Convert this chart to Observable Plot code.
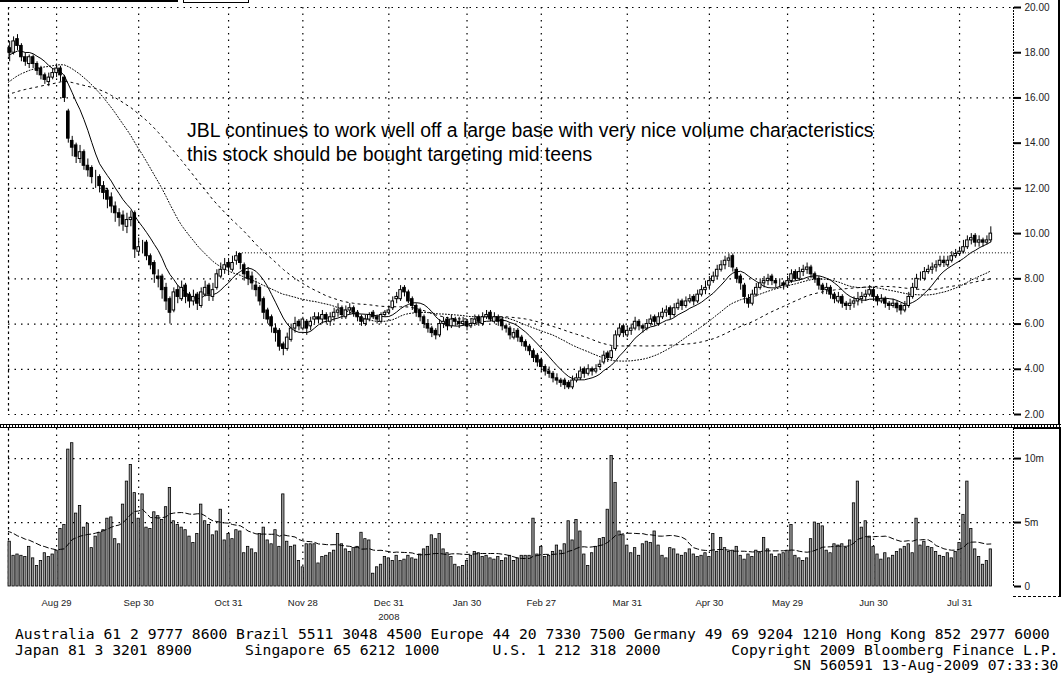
<!DOCTYPE html>
<html><head><meta charset="utf-8">
<script src="https://cdn.jsdelivr.net/npm/d3@7"></script>
<script src="https://cdn.jsdelivr.net/npm/@observablehq/plot@0.6"></script>
<style>
html,body{margin:0;padding:0;background:#fff;}
#wrap{position:relative;width:1061px;height:673px;overflow:hidden;background:#fff;}
#price{position:absolute;left:0;top:0;}
#vol{position:absolute;left:0;top:424px;}
.note{position:absolute;left:187px;font-family:"Liberation Sans",Arial,sans-serif;font-size:19.4px;color:#000;white-space:nowrap;line-height:1;}
#footer{position:absolute;left:15px;top:626px;font-family:"DejaVu Sans Mono",monospace;font-size:14.7px;line-height:15.5px;white-space:pre;color:#000;}
#sep{position:absolute;left:0;top:424px;width:1061px;height:2px;border-top:1px solid #000;border-bottom:1px solid #000;background:repeating-linear-gradient(90deg,#000 0 1px,#fff 1px 3px);}
.blk{position:absolute;background:#000;}
</style></head><body>
<div id="wrap">
  <div class="blk" style="left:0;top:0;width:178px;height:2px"></div>
  <div style="position:absolute;left:183px;top:-10px;width:64px;height:11px;border:1px solid #000"></div>
  <div id="price"></div>
  <div id="vol"></div>
  <div id="sep"></div>
  <div class="blk" style="left:1058px;top:0;width:2px;height:425px"></div>
  <div class="blk" style="left:1013px;top:427px;width:48px;height:2px"></div>
  <div class="blk" style="left:1059px;top:427px;width:2px;height:170px"></div>
  <div style="position:absolute;left:1013px;top:596px;width:48px;border-top:1px dashed #000"></div>
  <div class="note" style="top:121px">JBL continues to work well off a large base with very nice volume characteristics</div>
  <div class="note" style="top:145px">this stock should be bought targeting mid teens</div>
  <div id="footer"></div>
</div>
<script>
// ---- data (daily, trading-day index 0 = 13-Aug-2008 ... 251 = 12-Aug-2009) ----
const opens = [
18.2,18.0,18.6,18.3,17.8,17.5,17.8,17.5,17.3,17.0,
16.7,16.9,17.1,17.3,16.9,15.4,14.1,13.9,13.3,13.6,
13.0,12.9,12.4,12.5,12.1,11.9,11.6,11.2,10.9,10.8,
10.3,10.6,10.9,9.2,9.5,9.6,9.0,8.7,8.1,8.1,
7.6,7.1,6.6,7.5,7.1,7.7,7.3,7.0,7.3,6.8,
7.3,7.7,7.2,7.6,8.1,8.4,8.7,8.4,8.8,9.1,
8.6,8.3,8.1,7.7,7.6,7.1,6.6,6.3,5.8,5.7,
5.1,4.9,5.3,5.8,6.1,5.8,6.1,5.9,6.2,6.3,
6.2,6.4,6.1,6.3,6.5,6.7,6.3,6.6,6.7,6.5,
6.3,6.0,6.2,6.5,6.3,6.1,6.4,6.5,6.7,7.1,
7.1,7.6,7.4,7.1,6.8,6.6,6.3,6.0,5.8,5.7,
5.5,6.0,6.2,5.9,6.2,6.1,6.0,6.1,5.9,6.0,
6.3,6.0,6.3,6.5,6.1,6.3,6.2,5.9,5.8,5.4,
5.7,5.4,5.2,5.0,4.8,4.6,4.4,4.1,3.9,3.8,
3.6,3.5,3.5,3.4,3.2,3.5,3.6,4.0,3.8,4.0,
3.9,4.1,4.3,4.7,4.5,4.9,5.5,5.9,5.5,5.7,
5.8,6.1,5.9,5.8,6.0,6.3,6.0,6.3,6.5,6.7,
6.4,6.7,7.0,6.8,7.0,7.2,7.0,7.3,7.5,7.7,
7.9,8.1,8.4,8.6,8.8,9.0,8.4,8.1,7.7,7.1,
6.9,7.3,7.6,7.8,7.9,8.1,7.9,7.8,7.8,7.7,
7.9,8.3,8.0,8.3,8.4,8.5,8.2,8.0,7.7,7.5,
7.6,7.3,7.0,7.2,6.9,6.8,6.9,7.0,7.1,7.2,
7.3,7.5,7.2,7.0,7.1,6.9,6.8,6.9,6.8,6.6,
6.8,7.2,7.6,8.1,8.0,8.3,8.4,8.5,8.6,8.8,
8.6,8.8,9.0,9.1,9.2,9.4,9.7,9.9,9.6,9.7,
9.6,9.7];
const highs = [
18.5,18.7,18.8,18.4,18.0,17.9,17.9,17.6,17.4,17.1,
17.1,17.3,17.5,17.4,17.0,15.5,14.3,14.0,13.9,13.7,
13.3,13.0,12.8,12.6,12.3,12.0,11.8,11.4,11.1,11.0,
10.9,11.0,11.0,9.8,9.7,9.7,9.1,8.8,8.4,8.2,
7.8,7.2,7.6,7.7,7.9,7.8,7.4,7.5,7.4,7.6,
7.9,7.8,7.8,8.4,8.7,8.9,8.9,9.0,9.2,9.1,
8.7,8.5,8.3,7.9,7.7,7.2,6.7,6.4,6.0,5.8,
5.2,5.6,6.0,6.3,6.2,6.3,6.2,6.3,6.5,6.5,
6.6,6.5,6.5,6.7,6.9,6.8,6.8,6.9,6.8,6.6,
6.4,6.4,6.5,6.6,6.4,6.5,6.6,6.8,7.2,7.4,
7.7,7.7,7.5,7.2,6.9,6.7,6.4,6.2,5.9,5.8,
6.2,6.3,6.3,6.4,6.3,6.3,6.3,6.2,6.2,6.4,
6.4,6.5,6.6,6.6,6.5,6.4,6.3,6.0,5.9,5.8,
5.8,5.5,5.3,5.1,4.9,4.7,4.5,4.2,4.1,3.9,
3.8,3.6,3.6,3.5,3.7,3.8,4.1,4.1,4.2,4.1,
4.2,4.4,4.8,4.8,5.0,5.7,6.0,6.0,5.9,6.0,
6.3,6.2,6.0,6.2,6.4,6.4,6.5,6.7,6.8,6.8,
6.9,7.1,7.1,7.2,7.3,7.3,7.5,7.7,7.9,8.1,
8.3,8.6,8.8,9.0,9.1,9.1,8.5,8.2,7.8,7.3,
7.5,7.8,8.0,8.1,8.2,8.2,8.0,8.0,7.9,8.1,
8.4,8.4,8.5,8.6,8.7,8.6,8.3,8.1,7.8,7.8,
7.7,7.4,7.4,7.3,7.0,7.1,7.2,7.4,7.4,7.5,
7.7,7.6,7.3,7.3,7.2,7.0,7.1,7.0,6.9,7.0,
7.4,7.8,8.2,8.3,8.5,8.6,8.7,8.8,9.0,9.0,
9.0,9.2,9.3,9.4,9.7,9.9,10.0,10.0,9.9,9.8,
9.9,10.3];
const lows = [
17.6,17.9,18.1,17.6,17.4,17.3,17.3,17.0,16.8,16.6,
16.5,16.8,16.9,16.7,15.8,14.0,13.4,13.1,13.1,12.8,
12.5,12.2,12.0,11.8,11.5,11.1,10.9,10.5,10.3,10.1,
10.0,10.3,8.9,9.0,9.1,8.8,8.4,7.8,7.6,7.1,
6.6,6.0,6.5,6.9,7.0,6.9,6.7,6.8,6.6,6.7,
7.2,7.0,7.0,7.5,8.0,8.2,8.2,8.3,8.6,8.4,
7.9,7.7,7.5,7.2,6.8,6.2,6.0,5.6,5.2,4.8,
4.6,4.8,5.2,5.6,5.7,5.7,5.5,5.7,6.0,6.0,
6.0,6.0,5.9,6.1,6.3,6.2,6.2,6.4,6.3,6.1,
5.9,5.9,6.1,6.2,6.0,6.0,6.3,6.4,6.6,6.9,
7.0,7.2,6.9,6.6,6.3,6.1,5.8,5.6,5.4,5.3,
5.4,5.8,5.7,5.8,5.9,5.8,5.9,5.7,5.8,5.9,
5.9,5.9,6.2,6.1,6.0,5.9,5.7,5.6,5.3,5.3,
5.2,5.0,4.8,4.6,4.3,4.1,3.9,3.7,3.6,3.4,
3.3,3.2,3.1,3.1,3.1,3.4,3.5,3.6,3.7,3.7,
3.8,4.0,4.2,4.3,4.4,4.8,5.4,5.4,5.4,5.5,
5.7,5.7,5.6,5.7,5.9,5.9,5.9,6.2,6.3,6.2,
6.3,6.6,6.6,6.7,6.9,6.8,6.9,7.2,7.3,7.5,
7.8,8.0,8.3,8.4,8.5,8.3,7.8,7.5,6.9,6.7,
6.8,7.2,7.5,7.6,7.7,7.7,7.6,7.6,7.5,7.6,
7.8,7.9,7.9,8.1,8.2,8.0,7.8,7.5,7.3,7.3,
7.1,6.9,6.9,6.7,6.6,6.6,6.7,6.8,6.9,7.0,
7.2,7.0,6.8,6.9,6.7,6.6,6.7,6.5,6.4,6.5,
6.7,7.1,7.5,7.9,7.9,8.2,8.2,8.3,8.5,8.5,
8.5,8.7,8.9,9.0,9.1,9.3,9.5,9.4,9.4,9.4,
9.5,9.6];
const closes = [
18.0,18.5,18.3,17.8,17.6,17.8,17.5,17.2,17.0,16.8,
16.9,17.1,17.3,17.0,16.0,14.2,13.8,13.4,13.6,13.0,
12.8,12.5,12.4,12.1,11.8,11.5,11.2,10.9,10.7,10.4,
10.6,10.7,9.3,9.4,9.5,9.0,8.6,8.2,8.0,7.5,
7.0,6.5,7.4,7.2,7.6,7.2,7.0,7.2,6.9,7.4,
7.6,7.3,7.5,8.2,8.4,8.6,8.5,8.7,9.0,8.7,
8.2,8.0,7.8,7.5,7.0,6.5,6.2,5.9,5.6,5.0,
4.9,5.4,5.8,6.0,5.9,6.2,5.8,6.1,6.3,6.2,
6.4,6.2,6.3,6.5,6.6,6.4,6.6,6.7,6.5,6.3,
6.1,6.2,6.4,6.3,6.2,6.4,6.5,6.6,7.0,7.2,
7.5,7.4,7.0,6.8,6.5,6.3,6.0,5.8,5.6,5.5,
6.0,6.1,5.9,6.2,6.1,6.0,6.1,5.9,6.0,6.2,
6.1,6.3,6.4,6.2,6.3,6.1,5.9,5.8,5.5,5.6,
5.4,5.2,5.0,4.8,4.5,4.3,4.1,3.9,3.8,3.6,
3.5,3.4,3.3,3.2,3.5,3.6,3.9,3.8,4.0,3.9,
4.0,4.2,4.6,4.5,4.8,5.5,5.8,5.6,5.7,5.8,
6.1,5.9,5.8,6.0,6.2,6.1,6.3,6.5,6.6,6.4,
6.7,6.9,6.8,7.0,7.1,7.0,7.3,7.5,7.6,7.9,
8.1,8.4,8.6,8.8,8.9,8.5,8.0,7.8,7.2,6.9,
7.3,7.6,7.8,7.9,8.0,7.9,7.8,7.8,7.7,7.9,
8.2,8.0,8.3,8.4,8.5,8.2,8.0,7.7,7.5,7.6,
7.3,7.1,7.2,6.9,6.8,6.9,7.0,7.1,7.2,7.3,
7.5,7.2,7.0,7.1,6.9,6.8,6.9,6.7,6.6,6.8,
7.2,7.6,8.0,8.1,8.3,8.4,8.5,8.6,8.8,8.7,
8.8,9.0,9.1,9.2,9.4,9.7,9.8,9.6,9.7,9.6,
9.7,10.0];
// closes of the 50 sessions before the window (feed the moving averages only)
const priorCloses = [
16.0,15.8,15.5,15.3,15.6,15.9,15.7,15.4,15.1,14.9,
15.2,15.5,15.3,15.0,14.8,15.1,15.4,15.7,15.5,15.2,
14.9,14.6,14.8,15.1,15.4,15.6,15.9,16.1,15.8,16.0,
16.3,16.1,16.4,16.6,16.3,16.5,16.7,17.0,17.3,17.5,
17.2,17.6,17.8,17.5,17.9,18.1,17.8,18.0,18.2,17.9];
// volume, millions of shares
const volumes = [
3.5,2.4,2.5,2.4,2.3,3.1,2.2,1.6,2.0,2.6,
2.3,2.5,2.8,4.5,4.8,10.7,11.2,5.7,6.3,4.6,
4.9,3.0,3.9,4.2,4.4,5.3,5.4,3.7,3.3,6.4,
8.2,9.5,7.3,5.3,7.2,4.6,4.5,5.8,5.5,5.2,
6.2,7.7,5.1,4.8,4.6,4.4,3.9,3.4,4.1,6.4,
5.1,4.8,4.0,4.3,6.0,3.6,4.1,3.7,4.4,4.3,
2.6,3.1,2.9,2.6,4.1,4.6,3.6,3.3,4.4,3.1,
7.2,3.5,3.1,3.2,2.0,1.5,3.3,3.3,3.3,1.8,
2.3,2.4,2.6,2.8,4.1,3.3,2.9,2.7,3.0,3.1,
4.2,3.7,3.6,1.0,1.5,1.7,2.3,2.2,2.0,2.4,
2.0,2.1,2.4,2.2,2.1,2.5,2.9,3.1,4.0,3.7,
4.1,2.9,2.6,2.3,1.7,1.5,1.6,2.0,2.4,2.7,
2.6,2.3,2.4,2.2,2.1,2.3,2.0,2.2,2.4,2.0,
2.2,2.4,2.4,2.4,5.3,2.5,3.1,2.3,2.4,2.7,
3.2,2.8,3.3,5.1,3.6,5.2,4.3,2.5,1.6,2.6,
3.1,3.7,3.8,6.0,10.2,8.1,4.3,4.0,3.2,2.6,
3.0,2.4,3.3,3.5,3.4,4.3,3.2,2.4,2.2,3.0,
2.9,2.5,2.4,2.6,2.9,2.5,2.3,2.4,2.6,2.3,
4.1,2.7,3.8,3.0,2.7,2.8,3.1,2.4,2.1,2.5,
2.3,2.8,2.6,3.8,2.9,2.5,2.3,2.5,2.6,2.8,
4.8,2.4,2.2,2.0,2.2,3.7,5.0,4.9,4.7,2.8,
2.6,3.3,3.2,3.3,3.0,3.6,6.5,8.2,4.6,5.1,
3.9,3.1,2.5,2.1,2.6,2.2,2.4,2.7,2.9,3.1,
3.3,2.6,5.3,3.2,3.5,3.1,3.0,2.7,2.4,2.3,
2.6,2.2,2.7,3.4,5.6,8.2,4.5,2.9,2.3,1.7,
2.0,2.9];
// volumes of the 20 sessions before the window (feed the volume average only)
const priorVolumes = [5.5,5.0,6.1,4.8,5.2,4.6,5.0,4.4,4.9,4.2,4.5,3.9,4.3,3.6,4.0,3.5,3.8,3.2,3.6,3.3];

// month-end tick positions (trading-day index) and labels
const tickIdx = [12,33,56,75,97,117,136,158,179,199,221,243];
const tickLabels = ["Aug 29","Sep 30","Oct 31","Nov 28","Dec 31","Jan 30","Feb 27","Mar 31","Apr 30","May 29","Jun 30","Jul 31"];
const yearTickIdx = [97];
const yearLabels = ["2008"];
const priceTicks = [20,18,16,14,12,10,8,6,4,2];
const priceGrid = [20,16,12,8,6,4,2];
const volTicks = [0,5,10];
const volTickLabels = ["0","5m","10m"];
const volGrid = [5,10];
const resistanceLevel = [9.15];   // horizontal trend line drawn from the Nov-4 high
const resistanceStart = 58;
const maShort = 9, maMid = 30, maLong = 50, maVol = 20;

const footerLines = [
"Australia 61 2 9777 8600 Brazil 5511 3048 4500 Europe 44 20 7330 7500 Germany 49 69 9204 1210 Hong Kong 852 2977 6000",
"Japan 81 3 3201 8900      Singapore 65 6212 1000      U.S. 1 212 318 2000        Copyright 2009 Bloomberg Finance L.P.",
"                                                                                        SN 560591 13-Aug-2009 07:33:30"
];

// ---- build ----
const days = closes.map((c, i) => ({i, o: opens[i], h: highs[i], l: lows[i], c, v: volumes[i]}));
const closeSeries = priorCloses.map((c, k) => ({i: k - priorCloses.length, c})).concat(days.map(d => ({i: d.i, c: d.c})));
const volSeries = priorVolumes.map((v, k) => ({i: k - priorVolumes.length, v})).concat(days.map(d => ({i: d.i, v: d.v})));
const xDomain = [-0.3, 256.8];
const font = "'Liberation Sans', Arial, sans-serif";
const gridDash = "1.5,5";

const pricePlot = Plot.plot({
  width: 1061, height: 424,
  marginLeft: 8, marginRight: 48, marginTop: 7, marginBottom: 10,
  x: {domain: xDomain, axis: null},
  y: {domain: [2, 20], axis: null},
  style: {background: "transparent", overflow: "visible", fontFamily: font, fontSize: "10px", color: "#000"},
  marks: [
    Plot.ruleY(priceGrid, {stroke: "#000", strokeWidth: 1.2, strokeDasharray: gridDash}),
    Plot.ruleX(tickIdx, {stroke: "#000", strokeWidth: 1.2, strokeDasharray: gridDash}),
    Plot.frame({anchor: "left", stroke: "#000", strokeWidth: 1.2, strokeDasharray: "1.5,4"}),
    Plot.frame({anchor: "right", stroke: "#000", strokeDasharray: "1,2"}),
    Plot.ruleY(resistanceLevel, {x1: resistanceStart, x2: xDomain[1], stroke: "#000", strokeDasharray: "1,2"}),
    Plot.lineY(closeSeries, Plot.windowY({k: maLong, anchor: "end", strict: false}, {x: "i", y: "c", stroke: "#000", strokeWidth: 1, strokeDasharray: "2,4", clip: true})),
    Plot.lineY(closeSeries, Plot.windowY({k: maMid, anchor: "end", strict: false}, {x: "i", y: "c", stroke: "#000", strokeWidth: 1, strokeDasharray: "1,2", clip: true})),
    Plot.lineY(closeSeries, Plot.windowY({k: maShort, anchor: "end", strict: false}, {x: "i", y: "c", stroke: "#000", strokeWidth: 1, clip: true})),
    Plot.ruleX(days, {x: "i", y1: "l", y2: "h", stroke: "#000", strokeWidth: 1}),
    Plot.rect(days, {x1: d => d.i - 0.33, x2: d => d.i + 0.33, y1: "o", y2: "c",
      fill: d => d.c < d.o ? "#000" : "#fff", stroke: "#000", strokeWidth: 1}),
    Plot.axisY({anchor: "right", label: null, ticks: priceTicks, tickFormat: d => d.toFixed(2), tickSize: 7, tickPadding: 4, strokeWidth: 2, fill: "#222"})
  ]
});
document.getElementById("price").appendChild(pricePlot);

const volPlot = Plot.plot({
  width: 1061, height: 200,
  marginLeft: 8, marginRight: 48, marginTop: 4, marginBottom: 38,
  x: {domain: xDomain, axis: null},
  y: {domain: [0, 12.35], axis: null},
  style: {background: "transparent", overflow: "visible", fontFamily: font, fontSize: "10px", color: "#000"},
  marks: [
    Plot.ruleY(volGrid, {stroke: "#000", strokeWidth: 1.2, strokeDasharray: gridDash}),
    Plot.ruleX(tickIdx, {stroke: "#000", strokeWidth: 1.2, strokeDasharray: gridDash}),
    Plot.frame({anchor: "left", stroke: "#000", strokeWidth: 1.2, strokeDasharray: "1.5,4"}),
    Plot.frame({anchor: "right", stroke: "#000", strokeDasharray: "1,2"}),
    Plot.rect(days, {x1: d => d.i - 0.3, x2: d => d.i + 0.3, y1: 0, y2: "v", fill: "#9a9a9a", stroke: "#000", strokeWidth: 0.8}),
    Plot.lineY(volSeries, Plot.windowY({k: maVol, anchor: "end", strict: false}, {x: "i", y: "v", stroke: "#000", strokeWidth: 1, strokeDasharray: "5,3", clip: true})),
    Plot.axisY({anchor: "right", label: null, ticks: volTicks, tickFormat: d => volTickLabels[volTicks.indexOf(d)], tickSize: 7, tickPadding: 4, strokeWidth: 2, fill: "#222"}),
    Plot.axisX({label: null, ticks: tickIdx, tickFormat: d => tickLabels[tickIdx.indexOf(d)], tickSize: 0, tickPadding: 13, fontSize: 9.5, fill: "#222"}),
    Plot.axisX({label: null, ticks: yearTickIdx, tickFormat: d => yearLabels[yearTickIdx.indexOf(d)], tickSize: 0, tickPadding: 27, fontSize: 9.5, fill: "#222"})
  ]
});
document.getElementById("vol").appendChild(volPlot);

document.getElementById("footer").textContent = footerLines.join("\n");
</script>
</body></html>
